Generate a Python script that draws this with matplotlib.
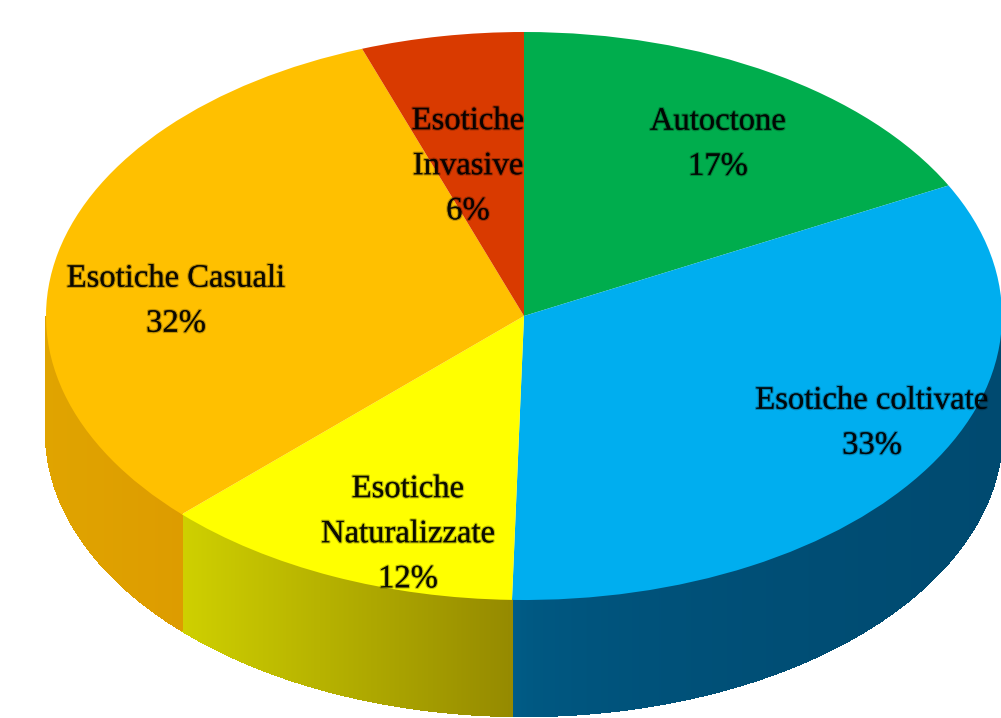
import numpy as np
import matplotlib
matplotlib.use("Agg")
import matplotlib.pyplot as plt
import matplotlib.patheffects as pe
from matplotlib.colors import to_rgb

# =========================
# DATA
# =========================
labels = ["Autoctone", "Esotiche coltivate", "Esotiche\nNaturalizzate", "Esotiche Casuali", "Esotiche\nInvasive"]
percent_text = ["17%", "33%", "12%", "32%", "6%"]
# slice sizes as measured on the picture (the printed labels are rounded)
values = [17.4, 33.0, 12.3, 31.8, 5.5]

top_colors = ["#00ad4d", "#00aeef", "#ffff00", "#ffc000", "#d93a00"]
side_left = ["#00ad4d", "#00608c", "#cfd000", "#e0a400", "#d93a00"]
side_right = ["#00ad4d", "#004a70", "#958a00", "#dd9c00", "#d93a00"]
# how quickly the wall shade moves from left colour to right colour
side_gamma = [1.0, 0.35, 1.0, 1.0, 1.0]
label_x = [718, 872, 408, 176, 468]
label_y = [144, 423, 534, 301, 166]

# =========================
# GEOMETRY (picture pixels)
# =========================
W, H = 1001, 718
CX, CY = 524, 316
RX, RY = 478, 284
DEPTH = 116 / RY

fig = plt.figure(figsize=(W / 100, H / 100), dpi=100)
ax = fig.add_axes([0, 0, 1, 1])


def to_data(px, py):
    return (px - CX) / RX, (CY - py) / RY


# =========================
# SIDE WALL
# =========================
def draw_side(start, end, left, right, gamma):
    # the wall only shows on the lower half of the ellipse
    lo, hi = max(start, 180), min(end, 360)
    if hi <= lo:
        return
    steps = max(int((hi - lo) * 6), 2)
    angles = np.linspace(lo, hi, steps + 1)
    c1, c2 = np.array(to_rgb(left)), np.array(to_rgb(right))
    # shade runs along x, left to right of the slice
    x_min, x_max = np.cos(np.radians(angles)).min(), np.cos(np.radians(angles)).max()
    for a0, a1 in zip(angles[:-1], angles[1:]):
        t = np.radians([a0, a1])
        xs, ys = np.cos(t), np.sin(t)
        f = ((xs.mean() - x_min) / (x_max - x_min)) ** gamma
        col = c1 + (c2 - c1) * f
        ax.fill(
            [xs[0], xs[1], xs[1], xs[0]],
            [ys[0], ys[1], ys[1] - DEPTH, ys[0] - DEPTH],
            color=col, lw=1.0, antialiased=False, zorder=1,
        )


# pie runs clockwise from 12 o'clock
edges = 90 - np.cumsum([0] + values) / sum(values) * 360
for i in range(len(values)):
    a_end, a_start = edges[i] % 360, edges[i + 1] % 360
    if a_end <= a_start:
        a_end += 360
    draw_side(a_start, a_end, side_left[i], side_right[i], side_gamma[i])

# =========================
# TOP FACE
# =========================
wedges, _ = ax.pie(
    values, colors=top_colors, startangle=90, counterclock=False,
    wedgeprops={"linewidth": 0, "zorder": 2},
)
ax.set_aspect("auto")
ax.set_xlim(to_data(0, 0)[0], to_data(W, 0)[0])
ax.set_ylim(to_data(0, H)[1], to_data(0, 0)[1])
ax.axis("off")

# =========================
# LABELS
# =========================
soft = [pe.withStroke(linewidth=1.8, foreground="black", alpha=0.25)]
for name, pct, x, y in zip(labels, percent_text, label_x, label_y):
    tx, ty = to_data(x, y)
    txt = ax.text(
        tx, ty, f"{name}\n{pct}", ha="center", va="center",
        fontsize=23.5, family="Liberation Serif", color="#000000", alpha=0.72,
        linespacing=1.62, zorder=5, clip_on=True,
    )
    txt.set_path_effects(soft + [pe.Normal()])

fig.savefig("out.png", dpi=100, facecolor="white")
plt.close(fig)
